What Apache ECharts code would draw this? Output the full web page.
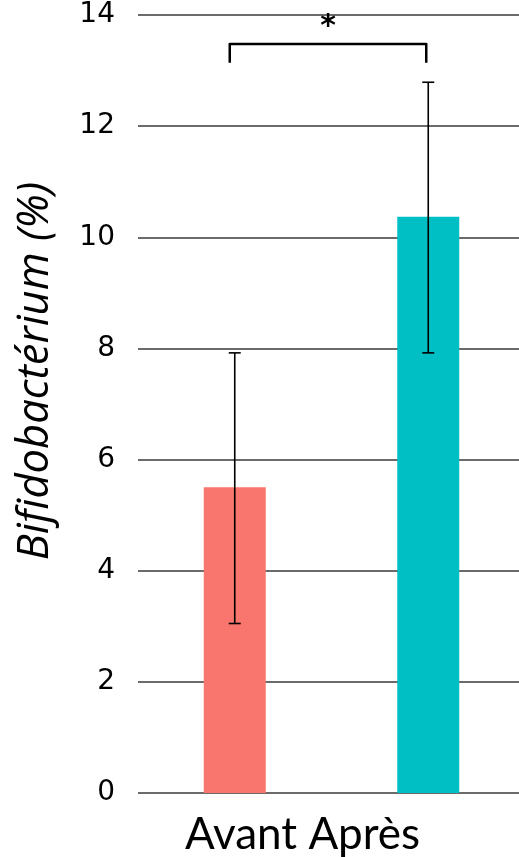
<!DOCTYPE html>
<html>
<head>
    <meta charset="utf-8" />
    <title>Bifidobacterium</title>
    <script type="text/javascript" src="https://cdn.jsdelivr.net/npm/echarts@6/dist/echarts.min.js"></script>
    <style>
        html, body { margin: 0; height: 100%; background: #fff; }
    </style>
</head>
<body>
    <div id="main" style="width: 519px;height: 857px;"></div>
    <script type="text/javascript">
        // data
        var categories = ['Avant', 'Après'];
        var means = [5.50, 10.37];
        var errLow = [3.05, 7.92];
        var errHigh = [7.92, 12.79];
        var barColors = ['#F8766D', '#00BFC4'];
        var yTicks = { min: 0, max: 14, interval: 2 };
        var yTitle = 'Bifidobactérium (%)';
        // significance bracket between the two groups
        var sigBracket = { from: 'Avant', to: 'Après', top: 13.48, bottom: 13.14, label: '*' };

        var errData = categories.map(function (c, i) { return [i, errLow[i], errHigh[i]]; });

        var myChart = echarts.init(document.getElementById('main'));

        var option = {
            animation: false,
            grid: { left: 138, right: -6, top: 15, bottom: 64, outerBoundsMode: 'none' },
            xAxis: {
                type: 'category',
                data: categories,
                axisLine: { show: false },
                axisTick: { show: false },
                axisLabel: { show: false }
            },
            yAxis: {
                type: 'value',
                min: yTicks.min,
                max: yTicks.max,
                interval: yTicks.interval,
                axisLine: { show: false },
                axisTick: { show: false },
                axisLabel: {
                    fontFamily: 'DejaVu Sans',
                    fontSize: 28,
                    color: '#000',
                    margin: 23
                },
                splitLine: { lineStyle: { color: '#3a3a3a', width: 1.5 } }
            },
            graphic: [{
                type: 'text',
                x: 36,
                y: 371,
                rotation: Math.PI / 2,
                style: {
                    text: yTitle,
                    font: 'italic 43.5px "Open Sans"',
                    fill: '#000',
                    align: 'center',
                    verticalAlign: 'middle'
                }
            }, {
                type: 'text',
                x: 185,
                y: 835,
                style: {
                    text: categories.join(' '),
                    font: '44px Lato',
                    fill: '#000',
                    verticalAlign: 'middle'
                }
            }],
            series: [{
                type: 'bar',
                barWidth: 62,
                data: means.map(function (v, i) {
                    return { value: v, itemStyle: { color: barColors[i] } };
                })
            }, {
                type: 'custom',
                data: errData,
                z: 5,
                renderItem: function (params, api) {
                    var x = api.value(0);
                    var lo = api.coord([x, api.value(1)]);
                    var hi = api.coord([x, api.value(2)]);
                    var cap = 6;
                    var st = { stroke: '#000', lineWidth: 1.6 };
                    return {
                        type: 'group',
                        children: [
                            { type: 'line', shape: { x1: lo[0], y1: lo[1], x2: hi[0], y2: hi[1] }, style: st },
                            { type: 'line', shape: { x1: lo[0] - cap, y1: lo[1], x2: lo[0] + cap, y2: lo[1] }, style: st },
                            { type: 'line', shape: { x1: hi[0] - cap, y1: hi[1], x2: hi[0] + cap, y2: hi[1] }, style: st }
                        ]
                    };
                }
            }, {
                type: 'custom',
                data: [[sigBracket.from, sigBracket.top]],
                z: 5,
                clip: false,
                renderItem: function (params, api) {
                    var a = api.coord([sigBracket.from, sigBracket.bottom]);
                    var b = api.coord([sigBracket.to, sigBracket.bottom]);
                    var t = api.coord([sigBracket.from, sigBracket.top]);
                    var x1 = a[0] - 5, x2 = b[0] - 2;
                    return {
                        type: 'group',
                        children: [{
                            type: 'polyline',
                            shape: { points: [[x1, a[1]], [x1, t[1]], [x2, t[1]], [x2, b[1]]] },
                            style: { stroke: '#000', lineWidth: 2.5, fill: null, lineJoin: 'round' }
                        }, {
                            type: 'text',
                            x: (x1 + x2) / 2,
                            y: t[1] - 2,
                            style: {
                                text: sigBracket.label,
                                font: 'bold 30px DejaVu Sans',
                                fill: '#000',
                                align: 'center',
                                verticalAlign: 'bottom'
                            }
                        }]
                    };
                }
            }]
        };

        myChart.setOption(option);
    </script>
</body>
</html>
